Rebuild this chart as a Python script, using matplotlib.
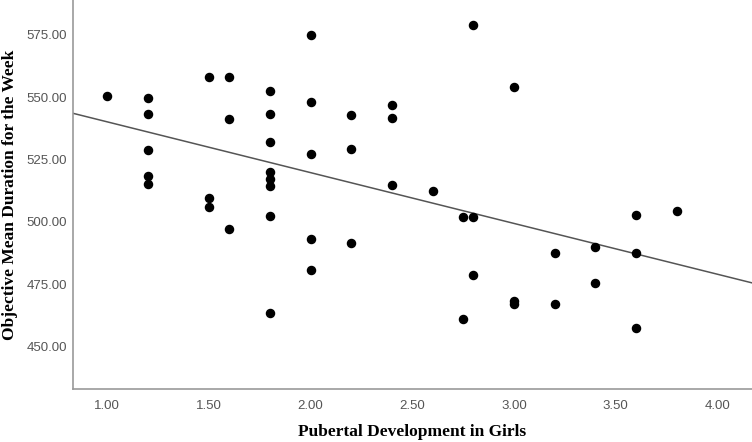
import numpy as np
import matplotlib.pyplot as plt

# Pubertal development score (girls) and objective mean sleep duration
puberty = [1.0,
           1.2, 1.2, 1.2, 1.2, 1.2,
           1.5, 1.5, 1.5,
           1.6, 1.6, 1.6,
           1.8, 1.8, 1.8, 1.8, 1.8, 1.8, 1.8, 1.8,
           2.0, 2.0, 2.0, 2.0, 2.0,
           2.2, 2.2, 2.2,
           2.4, 2.4, 2.4,
           2.6,
           2.75, 2.75,
           2.8, 2.8, 2.8,
           3.0, 3.0, 3.0,
           3.2, 3.2,
           3.4, 3.4,
           3.6, 3.6, 3.6,
           3.8]
duration = [550.4,
            549.8, 543.4, 528.9, 518.5, 515.2,
            558.0, 509.6, 505.9,
            558.0, 541.1, 497.0,
            552.5, 543.1, 532.0, 520.2, 517.1, 514.4, 502.4, 463.5,
            575.0, 548.2, 527.2, 493.3, 480.8,
            542.7, 529.2, 491.5,
            546.9, 541.8, 514.8,
            512.4,
            501.8, 460.9,
            579.0, 501.8, 478.9,
            554.0, 468.1, 466.9,
            487.7, 466.9,
            489.8, 475.3,
            502.9, 487.5, 457.4,
            504.5]

x_ticks = [1.0, 1.5, 2.0, 2.5, 3.0, 3.5, 4.0]
y_ticks = [450, 475, 500, 525, 550, 575]

fig = plt.figure(figsize=(7.52, 4.42), dpi=100)
ax = fig.add_axes([0.0965, 0.12, 0.9035, 0.88])

ax.scatter(puberty, duration, s=34, color='black', zorder=3)

# linear fit line
slope, intercept = np.polyfit(puberty, duration, 1)
xlim = (0.83, 4.17)
xs = np.array(xlim)
ax.plot(xs, slope * xs + intercept, color='#555555', linewidth=1.1, zorder=2)

ax.set_xlim(*xlim)
ax.set_ylim(433, 589)
ax.set_xticks(x_ticks)
ax.set_yticks(y_ticks)
ax.set_xticklabels([f"{v:.2f}" for v in x_ticks])
ax.set_yticklabels([f"{v:.2f}" for v in y_ticks])
ax.tick_params(axis='y', pad=4)
ax.tick_params(axis='x', pad=8)
ax.tick_params(length=0, labelsize=9.5, labelcolor='#555555')
for lbl in ax.get_xticklabels() + ax.get_yticklabels():
    lbl.set_family('Liberation Sans')

for side in ['top', 'right']:
    ax.spines[side].set_visible(False)
for side in ['left', 'bottom']:
    ax.spines[side].set_color('#999999')
    ax.spines[side].set_linewidth(1.2)

ax.set_xlabel("Pubertal Development in Girls", family='Liberation Serif',
              fontweight='bold', fontsize=12.5, va='center')
ax.set_ylabel("Objective Mean Duration for the Week", family='Liberation Serif',
              fontweight='bold', fontsize=12.5, va='center')
ax.xaxis.set_label_coords(0.5, -0.111)
ax.yaxis.set_label_coords(-0.092, 0.5)

fig.savefig("out.png", dpi=100)
